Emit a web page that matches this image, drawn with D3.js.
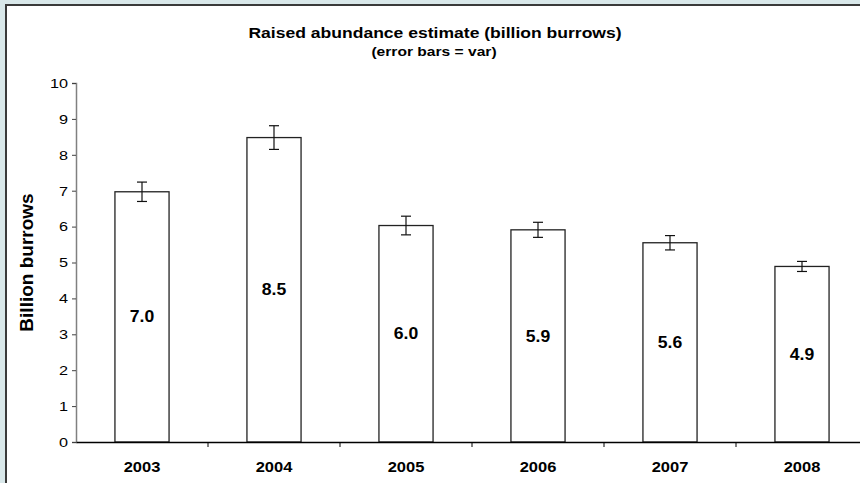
<!DOCTYPE html>
<html><head><meta charset="utf-8">
<script src="https://cdn.jsdelivr.net/npm/d3@7"></script>
<style>
html,body{margin:0;padding:0;background:#d9e8ea;}
svg{display:block;font-family:"Liberation Sans",Arial,sans-serif;}
</style></head>
<body>
<script>
const years = ["2003","2004","2005","2006","2007","2008"];
const values = [6.97, 8.48, 6.03, 5.91, 5.55, 4.89];
const errors = [0.27, 0.33, 0.26, 0.21, 0.20, 0.14];
const labels = ["7.0","8.5","6.0","5.9","5.6","4.9"];
const yTicks = [0,1,2,3,4,5,6,7,8,9,10];

const W = 860, H = 483;
const svg = d3.select("body").append("svg").attr("width", W).attr("height", H);

svg.append("rect").attr("x",0).attr("y",0).attr("width",W).attr("height",H).attr("fill","#d9e8ea");
svg.append("rect").attr("x",6).attr("y",5).attr("width",W+20).attr("height",H+20)
  .attr("fill","#ffffff").attr("stroke","#3a3a3a").attr("stroke-width",2);

const x0 = 76, x1 = 868, yTop = 83, yBot = 442;
const x = d3.scaleBand().domain(years).range([x0, x1]).paddingInner(0.59).paddingOuter(0.295);
const xb = d3.scaleBand().domain(years).range([x0, x1]);
const y = d3.scaleLinear().domain([0,10]).range([yBot, yTop]);

function stext(sel, px, py, sx) {
  return sel.attr("x",0).attr("y",0)
    .attr("transform", (d,i) => `translate(${typeof px==="function"?px(d,i):px},${typeof py==="function"?py(d,i):py}) scale(${sx},1)`);
}

// y axis
const yAxis = d3.axisLeft(y).tickValues(yTicks).tickSize(4).tickPadding(0).tickFormat(d3.format("d"));
const gy = svg.append("g").attr("transform",`translate(${x0},0)`).call(yAxis);
gy.select(".domain").attr("stroke","#808080").attr("stroke-width",1.5);
gy.selectAll(".tick line").attr("stroke","#404040");
gy.selectAll(".tick text").attr("font-size",12.5).attr("fill","#000")
  .attr("font-family","Liberation Sans, Arial, sans-serif")
  .attr("x",0).attr("dy","0.35em")
  .attr("transform","translate(-8,0) scale(1.3,1)");

// bars
svg.selectAll("rect.bar").data(years).enter().append("rect").attr("class","bar")
  .attr("x", d => x(d)).attr("width", x.bandwidth())
  .attr("y", (d,i) => y(values[i])).attr("height", (d,i) => yBot - y(values[i]))
  .attr("fill","#ffffff").attr("stroke","#222").attr("stroke-width",1.3);

// error bars
const eb = svg.selectAll("g.err").data(years).enter().append("g").attr("class","err");
eb.append("line").attr("x1", d => x(d)+x.bandwidth()/2).attr("x2", d => x(d)+x.bandwidth()/2)
  .attr("y1",(d,i)=>y(values[i]+errors[i])).attr("y2",(d,i)=>y(values[i]-errors[i]))
  .attr("stroke","#111").attr("stroke-width",1.2);
[1,-1].forEach(s => {
  eb.append("line").attr("x1", d => x(d)+x.bandwidth()/2-5).attr("x2", d => x(d)+x.bandwidth()/2+5)
    .attr("y1",(d,i)=>y(values[i]+s*errors[i])).attr("y2",(d,i)=>y(values[i]+s*errors[i]))
    .attr("stroke","#111").attr("stroke-width",1.2);
});

// value labels
stext(svg.selectAll("text.val").data(years).enter().append("text").attr("class","val"),
  d => x(d)+x.bandwidth()/2, (d,i)=>y(values[i]/2), 1.1)
  .attr("dy","0.35em").attr("text-anchor","middle").attr("font-weight","bold").attr("font-size",16)
  .text((d,i)=>labels[i]);

// x axis
const xAxis = d3.axisBottom(xb).tickSize(0).tickPadding(0);
const gx = svg.append("g").attr("transform",`translate(0,${yBot})`).call(xAxis);
gx.select(".domain").attr("stroke","#000").attr("stroke-width",1.3);
gx.selectAll(".tick text").attr("font-size",15).attr("font-weight","bold").attr("fill","#000")
  .attr("font-family","Liberation Sans, Arial, sans-serif")
  .attr("y",0).attr("dy",0).attr("transform","translate(0,30) scale(1.1,1)");
gx.selectAll("line.sep").data(years.slice(1)).enter().append("line").attr("class","sep")
  .attr("x1", d => xb(d)).attr("x2", d => xb(d)).attr("y1",0).attr("y2",5)
  .attr("stroke","#000").attr("stroke-width",1);

// titles
stext(svg.append("text"), 435, 38, 1.17).attr("text-anchor","middle")
  .attr("font-weight","bold").attr("font-size",15).text("Raised abundance estimate (billion burrows)");
stext(svg.append("text"), 434, 56, 1.3).attr("text-anchor","middle")
  .attr("font-weight","bold").attr("font-size",12).text("(error bars = var)");
svg.append("text").attr("x",0).attr("y",0)
  .attr("transform",`translate(33,${(yTop+yBot)/2}) rotate(-90)`).attr("text-anchor","middle")
  .attr("font-weight","bold").attr("font-size",19).text("Billion burrows");
</script>
</body></html>
